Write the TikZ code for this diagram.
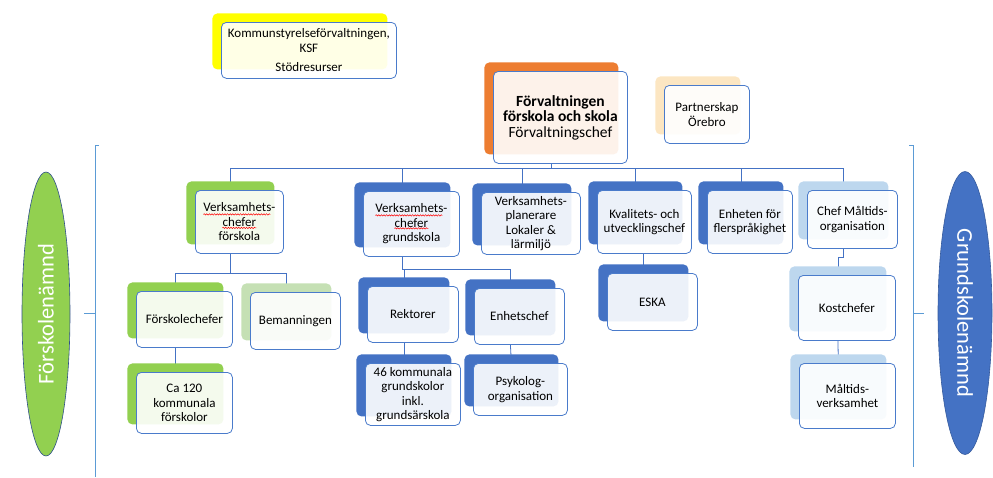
\documentclass[tikz,border=0pt]{standalone}
\usepackage{fontspec}
\setmainfont{Carlito}
\usetikzlibrary{shapes.geometric,backgrounds,decorations.pathmorphing}

\definecolor{fgreen}{HTML}{92D050}
\definecolor{lgreen}{HTML}{C5E0B4}
\definecolor{mblue}{HTML}{4472C4}
\definecolor{lblue}{HTML}{BDD7EE}
\definecolor{orng}{HTML}{ED7D31}
\definecolor{ksfyellow}{HTML}{FFFF00}
\definecolor{peach}{HTML}{FCE6C2}
\definecolor{frame}{HTML}{4A7BCB}
\definecolor{conn}{HTML}{4472C4}
\definecolor{brk}{HTML}{5B9BD5}

\begin{document}
\begin{tikzpicture}[x=1pt, y=-1pt,
	block/.style={
		rectangle, rounded corners=5pt,
		draw=frame, line width=0.8pt,
		fill=white, fill opacity=0.9, text opacity=1,
		align=center, inner sep=2pt, anchor=north west,
		font=\fontsize{13}{14.5}\selectfont
	},
	under/.style={preaction={draw=none, fill=#1, fill opacity=1,
		transform canvas={shift={(-9pt,9pt)}}}},
	line/.style={draw=conn, line width=0.8pt},
	bracket/.style={draw=brk, line width=1pt},
	board/.style={ellipse, line width=0.6pt, inner sep=0pt,
		text=white, font=\fontsize{22.5}{24}\selectfont},
	spellwave/.style={draw=red, line width=0.5pt, decorate,
		decoration={snake, amplitude=0.7pt, segment length=2.6pt}},
	]
	\useasboundingbox (0,0) rectangle (993,477);

	% top row
	\node [block, under=ksfyellow, minimum width=175, minimum height=56] (ksf) at (221,22)
		{Kommunstyrelseförvaltningen,\\ KSF\\[5pt] Stödresurser};
	\node [block, under=orng, minimum width=134, minimum height=92,
		font=\fontsize{15.5}{15.5}\selectfont] (forv) at (493,71)
		{\textbf{Förvaltningen}\\ \textbf{förskola och skola}\\ Förvaltningschef};
	\node [block, under=peach, minimum width=85, minimum height=58] (part) at (664,85)
		{Partnerskap\\ Örebro};

	% first level
	\node [block, under=fgreen, minimum width=88, minimum height=63] (vcf) at (195,190)
		{Verksamhets-\\ chefer\\ förskola};
	\node [block, under=mblue, minimum width=96, minimum height=65] (vcg) at (363,191)
		{Verksamhets-\\ chefer\\ grundskola};
	\node [block, under=mblue, minimum width=99, minimum height=62] (vpl) at (481,192)
		{Verksamhets-\\ planerare\\ Lokaler \&\\ lärmiljö};
	\node [block, under=mblue, minimum width=94, minimum height=63] (kval) at (597,190)
		{Kvalitets- och\\ utvecklingschef};
	\node [block, under=mblue, minimum width=85, minimum height=63] (fler) at (707,190)
		{Enheten för\\ flerspråkighet};
	\node [block, under=lblue, minimum width=90, minimum height=58] (malt) at (807,190)
		{Chef Måltids-\\ organisation};

	% spell-check marks
	\draw [spellwave] ([shift={(-36,-7.5)}]vcf.center) -- ++(67,0);
	\draw [spellwave] ([shift={(-17,6)}]vcf.center) -- ++(34,0);
	\draw [spellwave] ([shift={(-36,-8.5)}]vcg.center) -- ++(67,0);
	\draw [spellwave] ([shift={(-17,4.5)}]vcg.center) -- ++(34,0);

	% second level
	\node [block, under=fgreen, minimum width=96, minimum height=56] (fsc) at (136,291) {Förskolechefer};
	\node [block, under=lgreen, minimum width=90, minimum height=57] (bem) at (250,292) {Bemanningen};
	\node [block, under=mblue, minimum width=91, minimum height=56] (rek) at (367,286) {Rektorer};
	\node [block, under=mblue, minimum width=90, minimum height=56] (enh) at (474,288) {Enhetschef};
	\node [block, under=mblue, minimum width=90, minimum height=57] (eska) at (607,273) {ESKA};
	\node [block, under=lblue, minimum width=97, minimum height=65] (kost) at (798,275) {Kostchefer};

	% third level
	\node [block, under=fgreen, minimum width=96, minimum height=61] (ca) at (136,372)
		{Ca 120\\ kommunala\\ förskolor};
	\node [block, under=mblue, minimum width=95, minimum height=62] (skolor) at (365,363)
		{46 kommunala\\ grundskolor\\ inkl.\\ grundsärskola};
	\node [block, under=mblue, minimum width=94, minimum height=52] (psy) at (473,363)
		{Psykolog-\\ organisation};
	\node [block, under=lblue, minimum width=96, minimum height=65] (mv) at (799,363)
		{Måltids-\\ verksamhet};

	% boards
	\node [board, draw=mblue!70!black, fill=fgreen, minimum width=284, minimum height=48,
		rotate=90] (fnamnd) at (46,314) {Förskolenämnd};
	\node [board, draw=mblue!80!black, fill=mblue, minimum width=283, minimum height=54,
		rotate=-90] (gnamnd) at (965,313) {Grundskolenämnd};

	% brackets
	\draw [bracket] (99,145) -- (95,145) -- (95,477);
	\draw [bracket] (95,313) -- (84,313);
	\draw [bracket] (909,145) -- (913,145) -- (913,467);
	\draw [bracket] (913,313) -- (924,313);

	% connectors
	\begin{scope}[on background layer]
		\coordinate (hub) at ([xshift=-9pt,yshift=-5pt]forv.south);
		\draw [line] ([xshift=-9pt]forv.south) -- (hub);
		\foreach \n in {vcf,vcg,vpl,kval,fler,malt}
			\draw [line] (hub) -| ([xshift=-9pt]\n.north);

		\coordinate (fhub) at ([xshift=-9pt,yshift=-20pt]vcf.south);
		\draw [line] ([xshift=-9pt]vcf.south) -- (fhub);
		\foreach \n in {fsc,bem}
			\draw [line] (fhub) -| ([xshift=-9pt]\n.north);
		\draw [line] ([xshift=-9pt]fsc.south) -- ([xshift=-9pt]ca.north);

		\coordinate (ghub) at ([xshift=-9pt,yshift=-13pt]vcg.south);
		\draw [line] ([xshift=-9pt]vcg.south) -- (ghub);
		\foreach \n in {rek,enh}
			\draw [line] (ghub) -| ([xshift=-9pt]\n.north);
		\draw [line] ([xshift=-9pt]rek.south) -- ([xshift=-9pt]skolor.north);
		\draw [line] ([xshift=-9pt]enh.south) -- ([xshift=-9pt]psy.north);

		\coordinate (eskatop) at ([xshift=-9pt]eska.north);
		\draw [line] (eskatop) -- (eskatop |- kval.south);

		\draw [line] ([xshift=-9pt]malt.south) -- ++(0,9) -| ([xshift=-9pt]kost.north);
		\draw [line] ([xshift=-9pt]kost.south) -- ([xshift=-9pt]mv.north);
	\end{scope}
\end{tikzpicture}
\end{document}
